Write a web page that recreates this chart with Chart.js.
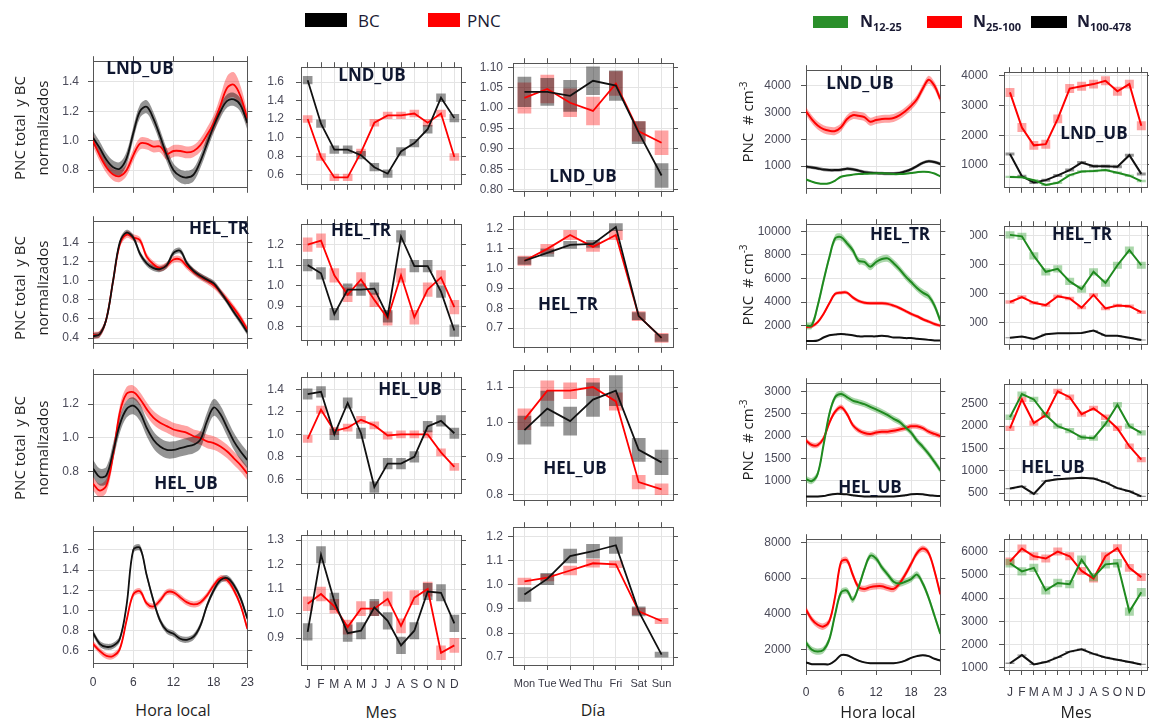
<!DOCTYPE html>
<html>
<head>
<meta charset="utf-8">
<title>PNC y BC</title>
<script src="https://cdn.jsdelivr.net/npm/chart.js@4.4.1/dist/chart.umd.min.js"></script>
<style>
  body { margin:0; width:1149px; height:720px; background:#fff; position:relative; overflow:hidden; font-family:"Open Sans", sans-serif; }
  .pan { position:absolute; }
  .tag { position:absolute; font-weight:bold; font-size:17px; color:#0f1730; transform:translate(-50%,-50%); white-space:nowrap; }
  .ytl { position:absolute; transform:translate(-50%,-50%) rotate(-90deg); font-size:15px; color:#1e1e1e; text-align:center; line-height:23px; white-space:nowrap; }
  .xtl { position:absolute; transform:translate(-50%,-50%); font-size:16px; color:#1e1e1e; white-space:nowrap; }
  .key { position:absolute; }
  .ktx { position:absolute; transform:translateY(-50%); white-space:nowrap; color:#1a1a33; }
  .ktx sub { font-size:11px; }
  .ytl sup { font-size:10px; }
</style>
</head>
<body>
<script>
// ── Categories + tick labels ───────────────────────────
var hours  = [0,1,2,3,4,5,6,7,8,9,10,11,12,13,14,15,16,17,18,19,20,21,22,23];
var months = ['J','F','M','A','M','J','J','A','S','O','N','D'];
var days   = ['Mon','Tue','Wed','Thu','Fri','Sat','Sun'];
var hourTicks = [0, 6, 12, 18, 23];

// ── Left block: normalised BC / PNC ────────────────────
// LND_UB
var lndHourBC  = [1.02,0.95,0.87,0.82,0.81,0.88,1.05,1.20,1.23,1.15,1.03,0.90,0.80,0.76,0.75,0.77,0.86,0.98,1.10,1.20,1.27,1.28,1.24,1.12];
var lndHourPNC = [1.00,0.90,0.82,0.77,0.76,0.80,0.90,0.98,0.98,0.96,0.96,0.91,0.93,0.93,0.92,0.93,0.97,1.04,1.12,1.24,1.36,1.38,1.30,1.15];
var lndHourPNCci = [0.04,0.04,0.04,0.04,0.04,0.04,0.04,0.04,0.04,0.04,0.04,0.04,0.04,0.04,0.04,0.04,0.045,0.05,0.055,0.065,0.08,0.085,0.07,0.05];
var lndMonBC   = [1.62,1.15,0.87,0.87,0.81,0.68,0.61,0.85,0.94,1.09,1.43,1.21];
var lndMonPNC  = [1.20,0.79,0.57,0.57,0.84,1.16,1.24,1.24,1.26,1.16,1.26,0.79];
var lndDayBC   = [1.040,1.040,1.030,1.067,1.055,0.940,0.835];
var lndDayBCci = [0.037,0.034,0.039,0.035,0.037,0.028,0.030];
var lndDayPNC  = [1.025,1.047,1.013,0.993,1.060,0.943,0.915];
var lndDayPNCci= [0.038,0.035,0.035,0.035,0.030,0.025,0.030];
// HEL_TR
var trHourBC  = [0.42,0.44,0.60,1.00,1.40,1.50,1.45,1.28,1.18,1.13,1.12,1.16,1.29,1.31,1.18,1.10,1.05,1.01,0.97,0.88,0.78,0.67,0.57,0.46];
var trHourPNC = [0.43,0.44,0.60,1.00,1.38,1.48,1.45,1.42,1.25,1.17,1.13,1.16,1.22,1.22,1.15,1.09,1.04,1.00,0.95,0.88,0.80,0.71,0.61,0.49];
var trMonBC   = [1.10,1.06,0.86,0.98,0.98,0.985,0.85,1.24,1.095,1.095,0.97,0.78];
var trMonPNC  = [1.20,1.22,1.05,0.955,1.03,0.93,0.84,1.05,0.845,0.98,1.04,0.895];
var trDayBC   = [1.04,1.08,1.12,1.125,1.21,0.76,0.65];
var trDayPNC  = [1.04,1.10,1.17,1.11,1.17,0.76,0.65];
// HEL_UB
var ubHourBC  = [0.82,0.77,0.78,0.92,1.08,1.17,1.19,1.15,1.06,0.99,0.95,0.93,0.93,0.94,0.95,0.96,0.99,1.10,1.18,1.14,1.06,0.98,0.92,0.87];
var ubHourPNC = [0.73,0.69,0.72,0.90,1.15,1.26,1.27,1.23,1.17,1.12,1.09,1.07,1.05,1.04,1.03,1.01,1.00,0.98,0.97,0.95,0.92,0.88,0.84,0.79];
var ubMonBC   = [1.36,1.38,1.00,1.28,1.01,0.53,0.74,0.74,0.80,1.07,1.12,1.01];
var ubMonPNC  = [0.96,1.22,1.03,1.06,1.13,1.08,0.99,1.00,1.00,1.00,0.84,0.71];
var ubDayBC    = [0.980,1.040,1.005,1.065,1.090,0.925,0.890];
var ubDayBCci  = [0.040,0.050,0.040,0.048,0.043,0.033,0.035];
var ubDayPNC   = [1.010,1.090,1.090,1.100,1.060,0.835,0.815];
var ubDayPNCci = [0.030,0.028,0.023,0.025,0.025,0.020,0.016];
// fourth row (no tag)
var r4HourBC  = [0.78,0.67,0.64,0.65,0.72,1.05,1.60,1.62,1.35,1.10,0.90,0.80,0.77,0.72,0.71,0.74,0.85,1.05,1.20,1.30,1.32,1.25,1.12,0.92];
var r4HourPNC = [0.67,0.60,0.55,0.55,0.62,0.90,1.16,1.19,1.07,1.04,1.10,1.18,1.18,1.13,1.08,1.06,1.08,1.15,1.25,1.32,1.30,1.20,1.05,0.82];
var r4MonBC   = [0.925,1.24,1.05,0.92,0.93,1.025,0.97,0.87,0.93,1.09,1.085,0.96];
var r4MonPNC  = [1.04,1.08,1.03,0.945,1.02,1.02,1.06,0.95,1.065,1.10,0.84,0.87];
var r4DayBC    = [0.960,1.025,1.120,1.140,1.165,0.890,0.710];
var r4DayBCci  = [0.030,0.025,0.030,0.030,0.035,0.020,0.012];
var r4DayPNC   = [1.015,1.030,1.060,1.090,1.085,0.890,0.850];
var r4DayPNCci = [0.015,0.015,0.020,0.018,0.015,0.015,0.012];

// ── Right block: size-resolved PNC (# cm-3) ────────────
var lndN12   = [500,420,360,340,360,460,600,650,680,700,710,720,730,730,720,700,700,710,740,770,790,780,720,620];
var lndN25   = [3050,2750,2520,2380,2320,2310,2450,2750,2900,2880,2830,2660,2720,2760,2770,2800,2900,3050,3250,3500,3900,4230,4000,3500];
var lndN100  = [980,950,910,870,850,850,860,900,880,830,770,750,740,730,720,720,740,800,880,1000,1120,1180,1150,1080];
var lndMonN12  = [600,590,490,330,400,660,780,800,830,740,640,460];
var lndMonN25  = [3440,2260,1660,1700,2550,3570,3650,3720,3830,3480,3720,2320];
var lndMonN100 = [1370,620,410,490,650,830,1080,960,960,940,1330,700];

var trN12  = [2000,2050,3700,5800,7800,9400,9500,9000,8400,7500,7400,7000,7400,7650,7700,7300,6800,6200,5700,5200,4800,4500,3700,2400];
var trN25  = [1900,1950,2300,3000,3900,4700,4800,4800,4400,4100,3950,3900,3900,3900,3850,3700,3500,3250,3000,2800,2550,2350,2150,2000];
var trN100 = [700,700,750,1000,1200,1250,1300,1250,1200,1100,1100,1100,1100,1150,1100,1000,1000,950,950,900,850,800,750,750];
var trMonN12  = [8050,7950,6600,5500,5700,4830,4300,5500,4720,5950,7000,5950];
var trMonN25  = [3410,3750,3350,3190,3810,3650,3020,3900,2960,3160,3120,2700];
var trMonN100 = [940,1020,860,1180,1240,1240,1270,1430,1080,1080,940,780];

var ubN12  = [1030,990,1150,1800,2500,2880,2950,2880,2800,2760,2720,2660,2600,2540,2470,2390,2320,2200,2080,1900,1760,1600,1420,1230];
var ubN25  = [1900,1800,1800,1950,2300,2550,2650,2500,2250,2130,2070,2050,2080,2100,2100,2120,2150,2180,2220,2220,2180,2100,2050,2000];
var ubN100 = [640,640,640,650,680,700,700,690,670,650,640,640,640,640,640,640,650,670,690,700,690,670,660,650];
var ubMonN12  = [2200,2720,2600,2250,2000,1900,1750,1730,2050,2480,2000,1850];
var ubMonN25  = [1950,2600,2070,2250,2780,2650,2270,2400,2200,1950,1550,1250];
var ubMonN100 = [600,650,480,770,810,825,840,825,740,610,540,425];

var r4N12  = [2400,2000,1900,2000,2600,4000,5200,5300,4800,5500,6500,7250,7100,6600,6200,5800,5700,5800,5950,6200,5700,4900,3900,2900];
var r4N25  = [4250,3700,3400,3300,3600,5000,6900,7000,6200,5500,5400,5500,5550,5550,5450,5400,5700,6200,6800,7400,7650,7400,6400,5100];
var r4N100 = [1300,1200,1200,1200,1200,1400,1700,1700,1550,1400,1300,1250,1250,1250,1250,1250,1300,1400,1550,1650,1700,1650,1500,1400];
var r4MonN12  = [5500,5150,5300,4330,4650,4600,5650,4900,5450,5500,3420,4250];
var r4MonN25  = [5580,6130,5800,5700,6000,5800,5170,4840,5800,6150,5300,4900];
var r4MonN100 = [1200,1550,1150,1250,1450,1700,1800,1600,1450,1350,1250,1150];

// ── Styles ─────────────────────────────────────────────
Chart.defaults.font.family = "'Liberation Sans Narrow','Liberation Sans',Arial,sans-serif";
Chart.defaults.font.size = 12;
var AXIS = '#555', GRID = '#e4e4e4', TICK = '#4b4b5a';
var PADT = 7, PADR = 8;
var cBC  = { color:'#111111', band:'rgba(0,0,0,0.42)' };
var cPNC = { color:'#ff0000', band:'rgba(255,0,0,0.36)' };
var cG   = { color:'#1f8a1f', band:'rgba(34,150,34,0.38)' };

function S(v, ci, c) { return { v: v, ci: ci, color: c.color, band: c.band }; }
function ciAt(ci, i) { return Array.isArray(ci) ? ci[i] : ci; }

function makePanel(p) {
    var padB = p.showX ? p.padB : 7;
    var div = document.createElement('div');
    div.className = 'pan';
    div.style.left   = (p.box[0] - p.padL) + 'px';
    div.style.top    = (p.box[1] - PADT) + 'px';
    div.style.width  = (p.box[2] + p.padL + PADR) + 'px';
    div.style.height = (p.box[3] + PADT + padB) + 'px';
    var cv = document.createElement('canvas');
    div.appendChild(cv);
    document.body.appendChild(div);

    var isHour = p.kind === 'hour';
    var cats = p.kind === 'month' ? months : days;
    var datasets = [];
    var NONE = 'rgba(0,0,0,0)';
    p.series.forEach(function (s, k) {
        if (isHour) {
            datasets.push({ type:'line', data: s.v.map(function (v, i) { return { x: hours[i], y: v - ciAt(s.ci, i) }; }),
                borderWidth:0, borderColor:NONE, pointRadius:0, fill:false, tension:0.35, order: 10 + k });
            datasets.push({ type:'line', data: s.v.map(function (v, i) { return { x: hours[i], y: v + ciAt(s.ci, i) }; }),
                borderWidth:0, borderColor:NONE, pointRadius:0, fill:'-1', backgroundColor: s.band, tension:0.35, order: 10 + k });
            datasets.push({ type:'line', data: s.v.map(function (v, i) { return { x: hours[i], y: v }; }),
                borderColor: s.color, borderWidth: p.lw, pointRadius:0, fill:false, tension:0.35, order: k });
        } else {
            datasets.push({ type:'bar', data: s.v.map(function (v, i) { var c = ciAt(s.ci, i); return [v - c, v + c]; }),
                backgroundColor: s.band, borderWidth:0, grouped:false, barPercentage: p.barW, categoryPercentage:1, order: 10 + k });
            datasets.push({ type:'line', data: s.v, borderColor: s.color, borderWidth: p.lw, pointRadius:0, fill:false, tension:0, order: k });
        }
    });

    function xAxis(pos, labels) {
        var a = isHour
            ? { type:'linear', min:0, max:23,
                afterBuildTicks: function (sc) { sc.ticks = hourTicks.map(function (h) { return { value: h }; }); } }
            : { type:'category', offset:true };
        a.position = pos;
        a.grid = { color: GRID, drawOnChartArea: pos === 'bottom', tickColor: AXIS, tickLength: 5, offset: false };
        a.border = { color: AXIS };
        a.ticks = { display: labels, color:'#3a3a46', font:{ size: p.kind === 'day' ? 11 : 12 }, padding: p.xPad || 6,
                    maxRotation:0, autoSkip:false };
        a.afterFit = function (sc) { sc.height = pos === 'bottom' ? padB : PADT; };
        return a;
    }
    function yAxis(pos, labels) {
        return {
            position: pos, min: p.yr[0], max: p.yr[1],
            afterBuildTicks: function (sc) { sc.ticks = p.yt.map(function (t) { return { value: parseFloat(t) }; }); },
            grid: { color: GRID, drawOnChartArea: pos === 'left', tickColor: AXIS, tickLength: 5 },
            border: { color: AXIS },
            ticks: { display: labels, color: TICK, font:{ size: 12 }, padding: p.tickPad,
                     callback: function (v, i) { return p.yt[i]; } },
            afterFit: function (sc) { sc.width = pos === 'left' ? p.padL : PADR; }
        };
    }

    new Chart(cv, {
        type: isHour ? 'line' : 'bar',
        data: isHour ? { datasets: datasets } : { labels: cats, datasets: datasets },
        options: {
            responsive: true, maintainAspectRatio: false, animation: false, events: [],
            layout: { padding: 0 },
            plugins: { legend: { display: false }, tooltip: { enabled: false } },
            scales: { x: xAxis('bottom', p.showX), x2: xAxis('top', false), y: yAxis('left', true), y2: yAxis('right', false) }
        }
    });
}

// ── Panels ─────────────────────────────────────────────
var left = { lw: 1.8, padB: 30, xPad: 7 };
function L(o) { return Object.assign({}, left, o); }
var right = { lw: 2, padB: 32, xPad: 10 };
function R(o) { return Object.assign({}, right, o); }

var panels = [
    // row 1
    L({ box:[93,52,160,145],  kind:'hour',  yr:[0.68,1.54], yt:['0.8','1.0','1.2','1.4'], padL:40, tickPad:9,
        series:[S(lndHourBC,0.045,cBC), S(lndHourPNC,lndHourPNCci,cPNC)] }),
    L({ box:[301,55,160,142], kind:'month', yr:[0.49,1.76], yt:['0.6','0.8','1.0','1.2','1.4','1.6'], padL:40, tickPad:12, barW:0.72,
        series:[S(lndMonBC,0.045,cBC), S(lndMonPNC,0.04,cPNC)] }),
    L({ box:[513,58,160,139], kind:'day',   yr:[0.795,1.11], yt:['0.80','0.85','0.90','0.95','1.00','1.05','1.10'], padL:40, tickPad:5, barW:0.6,
        series:[S(lndDayBC,lndDayBCci,cBC), S(lndDayPNC,lndDayPNCci,cPNC)] }),
    // row 2
    L({ box:[93,212,160,141], kind:'hour',  yr:[0.34,1.62], yt:['0.4','0.6','0.8','1.0','1.2','1.4'], padL:40, tickPad:9,
        series:[S(trHourBC,0.03,cBC), S(trHourPNC,0.035,cPNC)] }),
    L({ box:[301,212,160,141], kind:'month', yr:[0.73,1.30], yt:['0.8','0.9','1.0','1.1','1.2'], padL:40, tickPad:12, barW:0.72,
        series:[S(trMonBC,0.03,cBC), S(trMonPNC,0.035,cPNC)] }),
    L({ box:[513,211,160,142], kind:'day',   yr:[0.60,1.265], yt:['0.7','0.8','0.9','1.0','1.1','1.2'], padL:40, tickPad:5, barW:0.6,
        series:[S(trDayBC,0.02,cBC), S(trDayPNC,0.025,cPNC)] }),
    // row 3
    L({ box:[93,365,160,141], kind:'hour',  yr:[0.653,1.376], yt:['0.8','1.0','1.2'], padL:40, tickPad:9,
        series:[S(ubHourBC,0.05,cBC), S(ubHourPNC,0.04,cPNC)] }),
    L({ box:[301,365,160,141], kind:'month', yr:[0.47,1.51], yt:['0.6','0.8','1.0','1.2','1.4'], padL:40, tickPad:12, barW:0.72,
        series:[S(ubMonBC,0.05,cBC), S(ubMonPNC,0.035,cPNC)] }),
    L({ box:[513,365,160,141], kind:'day',   yr:[0.783,1.147], yt:['0.8','0.9','1.0','1.1'], padL:40, tickPad:5, barW:0.6,
        series:[S(ubDayBC,ubDayBCci,cBC), S(ubDayPNC,ubDayPNCci,cPNC)] }),
    // row 4
    L({ box:[93,522,160,141], kind:'hour',  yr:[0.48,1.785], yt:['0.6','0.8','1.0','1.2','1.4','1.6'], padL:40, tickPad:9, showX:true,
        series:[S(r4HourBC,0.03,cBC), S(r4HourPNC,0.03,cPNC)] }),
    L({ box:[301,523,160,142], kind:'month', yr:[0.79,1.32], yt:['0.9','1.0','1.1','1.2','1.3'], padL:40, tickPad:12, barW:0.72, showX:true,
        series:[S(r4MonBC,0.035,cBC), S(r4MonPNC,0.03,cPNC)] }),
    L({ box:[513,522,160,143], kind:'day',   yr:[0.667,1.24], yt:['0.7','0.8','0.9','1.0','1.1','1.2'], padL:40, tickPad:5, barW:0.6, showX:true,
        series:[S(r4DayBC,r4DayBCci,cBC), S(r4DayPNC,r4DayPNCci,cPNC)] }),

    // right block
    R({ box:[806,60,143,139], kind:'hour',  yr:[150,4585], yt:['1000','2000','3000','4000'], padL:56, tickPad:10,
        series:[S(lndN12,25,cG), S(lndN100,60,cBC), S(lndN25,150,cPNC)] }),
    R({ box:[1004,61,144,138], kind:'month', yr:[233,4120], yt:['1000','2000','3000','4000'], padL:50, tickPad:11, barW:0.75,
        series:[S(lndMonN12,40,cG), S(lndMonN100,50,cBC), S(lndMonN25,150,cPNC)] }),
    R({ box:[806,214,143,141], kind:'hour',  yr:[383,10600], yt:['2000','4000','6000','8000','10000'], padL:56, tickPad:10,
        series:[S(trN12,300,cG), S(trN100,40,cBC), S(trN25,150,cPNC)] }),
    R({ box:[1004,215,144,141], kind:'month', yr:[450,8650], yt:['2000','4000','6000','8000'], padL:34, tickPad:11, barW:0.75,
        series:[S(trMonN12,250,cG), S(trMonN100,30,cBC), S(trMonN25,120,cPNC)] }),
    R({ box:[806,373,143,139], kind:'hour',  yr:[522,3191], yt:['1000','1500','2000','2500','3000'], padL:56, tickPad:10,
        series:[S(ubN12,70,cG), S(ubN100,15,cBC), S(ubN25,60,cPNC)] }),
    R({ box:[1004,373,144,139], kind:'month', yr:[325,2942], yt:['500','1000','1500','2000','2500'], padL:50, tickPad:11, barW:0.75,
        series:[S(ubMonN12,60,cG), S(ubMonN100,15,cBC), S(ubMonN25,60,cPNC)] }),
    R({ box:[806,529,143,141], kind:'hour',  yr:[874,8176], yt:['2000','4000','6000','8000'], padL:56, tickPad:10, showX:true,
        series:[S(r4N12,180,cG), S(r4N100,40,cBC), S(r4N25,180,cPNC)] }),
    R({ box:[1004,528,144,142], kind:'month', yr:[909,6532], yt:['1000','2000','3000','4000','5000','6000'], padL:50, tickPad:11, barW:0.75, showX:true,
        series:[S(r4MonN12,180,cG), S(r4MonN100,30,cBC), S(r4MonN25,170,cPNC)] })
];
panels.forEach(makePanel);

// ── Text overlays ──────────────────────────────────────
function put(cls, html, x, y) {
    var d = document.createElement('div');
    d.className = cls;
    d.innerHTML = html;
    d.style.left = x + 'px';
    d.style.top = y + 'px';
    document.body.appendChild(d);
    return d;
}
[['LND_UB',140,67],['LND_UB',372,74],['LND_UB',583,175],
 ['HEL_TR',219,227],['HEL_TR',361,229],['HEL_TR',568,303],
 ['HEL_UB',186,482],['HEL_UB',410,388],['HEL_UB',575,467],
 ['LND_UB',860,82],['LND_UB',1094,132],['HEL_TR',900,233],['HEL_TR',1082,233],
 ['HEL_UB',870,486],['HEL_UB',1053,466]].forEach(function (t) { put('tag', t[0], t[1], t[2]); });

[128, 288, 448].forEach(function (y) { put('ytl', 'PNC total&nbsp; y BC<br>normalizados', 31, y); });
[122, 285, 440].forEach(function (y) { put('ytl', 'PNC&nbsp; #&nbsp;cm<sup>-3</sup>', 745, y); });

put('xtl', 'Hora local', 173, 710);
put('xtl', 'Mes', 381, 712);
put('xtl', 'Día', 593, 710);
put('xtl', 'Hora local', 878, 712);
put('xtl', 'Mes', 1076, 712);

// legends
function key(x, y, w, h, col) {
    var d = document.createElement('div');
    d.className = 'key';
    d.style.cssText = 'left:' + x + 'px;top:' + y + 'px;width:' + w + 'px;height:' + h + 'px;background:' + col;
    document.body.appendChild(d);
}
key(305, 13, 42, 14, '#000');
put('ktx', 'BC', 358, 20).style.fontSize = '17px';
key(428, 13, 32, 14, '#ff0000');
put('ktx', 'PNC', 467, 20).style.fontSize = '17px';

key(813, 16, 35, 12, '#2a8f2a');
key(927, 16, 35, 12, '#ff0000');
key(1031, 16, 36, 12, '#000');
[['N<sub>12-25</sub>', 860], ['N<sub>25-100</sub>', 973], ['N<sub>100-478</sub>', 1077]].forEach(function (t) {
    var d = put('ktx', t[0], t[1], 22);
    d.style.fontWeight = 'bold';
    d.style.fontSize = '16px';
});
</script>
</body>
</html>
